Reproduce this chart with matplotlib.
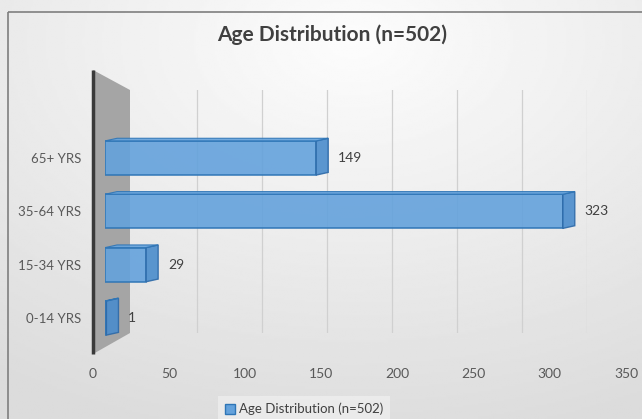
import numpy as np
import matplotlib.pyplot as plt
from matplotlib.patches import Polygon, Rectangle

plt.rcParams['font.family'] = ['Lato', 'DejaVu Sans']

categories = ['0-14 YRS', '15-34 YRS', '35-64 YRS', '65+ YRS']
counts = [1, 29, 323, 149]
ticks = [0, 50, 100, 150, 200, 250, 300, 350]
title = 'Age Distribution (n=502)'

W, H = 642, 419
fig = plt.figure(figsize=(W / 100, H / 100), dpi=100)


def box(left, top, right, bottom):
    # pixel box (from top-left) -> figure fraction rect
    return [left / W, 1 - bottom / H, (right - left) / W, (bottom - top) / H]


# soft gray background with a brighter spot near the top
bg = fig.add_axes([0, 0, 1, 1])
yy, xx = np.mgrid[0:1:200j, 0:1:300j]
r = np.sqrt(((xx - 0.55) / 0.9) ** 2 + ((yy - 0.1) / 0.9) ** 2)
shade = np.clip(0.99 - 0.12 * r, 0.86, 0.99)
bg.imshow(shade, cmap='gray', vmin=0, vmax=1, extent=[0, W, H, 0], aspect='auto')
bg.set_xlim(0, W)
bg.set_ylim(H, 0)
bg.axis('off')
bg.add_patch(Rectangle((8, 12), W, H, fill=False, ec='#7f7f7f', lw=1.2))
# side wall of the 3d plot area
bg.add_patch(Polygon([(93, 70), (130, 90), (130, 333), (93, 354)], closed=True,
                     fc='#a5a5a5', ec='none'))
bg.plot([93, 93], [70, 354], color='#3a3a3a', lw=2.5, solid_capstyle='butt')
bg.text(332, 35, title, ha='center', va='center', fontsize=15,
        fontweight='bold', color='#404040')

# back wall gridlines
back = fig.add_axes(box(132, 90, 587, 333))
back.set_xlim(0, 350)
back.set_ylim(0, 1)
for t in ticks[1:]:
    back.axvline(t, color='#d0d0d0', lw=0.9)
back.axis('off')

# bars
ax = fig.add_axes(box(105, 126, 601, 350))
ax.set_xlim(0, 350)
ax.set_ylim(-0.6, 3.6)
ax.patch.set_alpha(0)
y = np.arange(len(categories))
h = 0.64
dx, dy = 8.5, 0.05
ax.barh(y, counts, height=h, color='#64a2dc', alpha=0.9,
        edgecolor='#2e75b6', lw=1.2, zorder=3)
for yi, v in zip(y, counts):
    top = yi + h / 2
    bot = yi - h / 2
    ax.add_patch(Polygon([(v, bot), (v + dx, bot + dy), (v + dx, top + dy), (v, top)],
                         closed=True, fc='#4a8ccc', ec='#2e6aa8', lw=1, alpha=0.9,
                         zorder=4))
    ax.add_patch(Polygon([(0, top), (dx, top + dy), (v + dx, top + dy), (v, top)],
                         closed=True, fc='#64a2dc', ec='#2e75b6', lw=0.8, alpha=0.9,
                         zorder=4))
    ax.annotate(str(v), (v + dx, yi), xytext=(7, 0), textcoords='offset points',
                va='center', ha='left', fontsize=10, color='#404040')
ax.set_yticks(y)
ax.set_yticklabels(categories, fontsize=9.5, color='#595959')
ax.tick_params(axis='y', length=0, pad=17)
ax.set_xticks([])
for s in ax.spines.values():
    s.set_visible(False)

# value axis labels along the front edge
xa = fig.add_axes(box(93, 364, 626, 365))
xa.set_xlim(0, 350)
xa.set_xticks(ticks)
xa.set_xticklabels([str(t) for t in ticks], fontsize=10, color='#595959')
xa.tick_params(axis='x', length=0, pad=2)
xa.set_yticks([])
xa.patch.set_alpha(0)
for s in xa.spines.values():
    s.set_visible(False)

handle = Rectangle((0, 0), 1, 1, fc='#64a2dc', ec='#2e75b6', lw=1)
leg = fig.legend([handle], [title], loc='center', bbox_to_anchor=(304 / W, 1 - 409 / H),
                 fontsize=9.5, frameon=True, fancybox=False, handlelength=0.8,
                 handleheight=0.8, handletextpad=0.3, borderpad=0.5)
leg.get_frame().set_facecolor('#eeeeee')
leg.get_frame().set_edgecolor('none')
for t in leg.get_texts():
    t.set_color('#404040')

fig.savefig('out.png', dpi=100)
